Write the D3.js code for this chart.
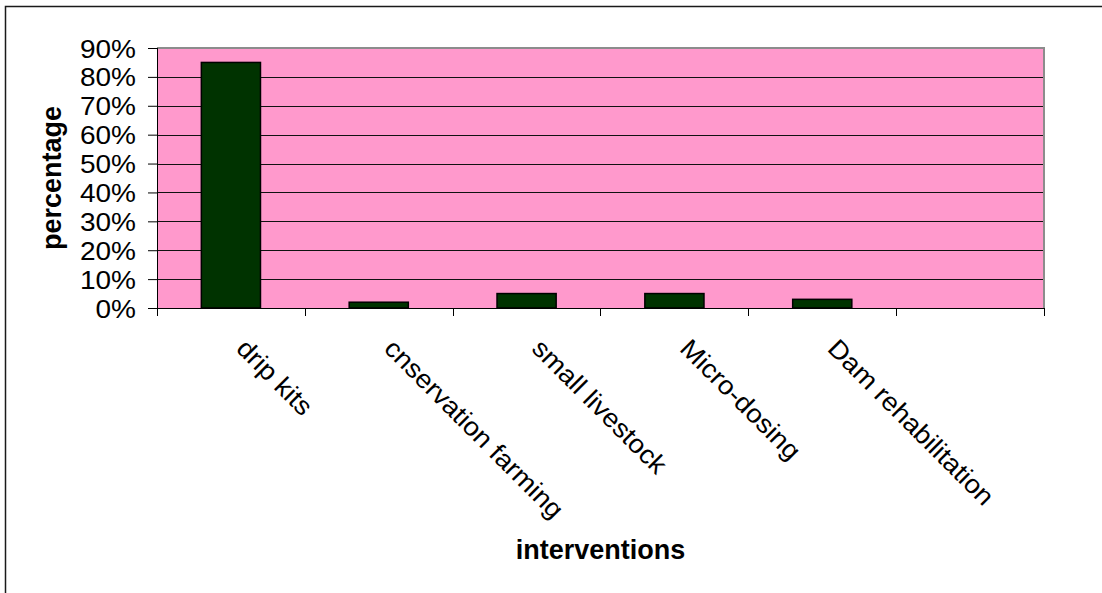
<!DOCTYPE html>
<html>
<head>
<meta charset="utf-8">
<script src="https://cdn.jsdelivr.net/npm/d3@7"></script>
<style>
  body { margin: 0; background: #fff; }
  text { font-family: "Liberation Sans", Arial, sans-serif; fill: #000; }
</style>
</head>
<body>
<div id="chart"></div>
<script>
// data
const categories = ["drip kits", "cnservation farming", "small livestock", "Micro-dosing", "Dam rehabilitation", ""]
const values = [0.85, 0.02, 0.05, 0.05, 0.03, null]
const yTicks = [0, 0.1, 0.2, 0.3, 0.4, 0.5, 0.6, 0.7, 0.8, 0.9]

const margin = { top: 48, right: 58, bottom: 285, left: 157 }
const width = 1102 - margin.left - margin.right
const height = 593 - margin.top - margin.bottom

const root = d3.select("#chart").append("svg")
  .attr("width", 1102)
  .attr("height", 593)

// outer chart frame (runs off right/bottom edge)
root.append("rect")
  .attr("x", 5.5).attr("y", 6.5)
  .attr("width", 1200).attr("height", 700)
  .attr("fill", "none")
  .attr("stroke", "#1a1a1a")
  .attr("stroke-width", 1.5)

const svg = root.append("g")
  .attr("transform", `translate(${margin.left},${margin.top})`)

const yScale = d3.scaleLinear()
  .domain([0, 0.9])
  .range([height, 0])

const xScale = d3.scaleBand()
  .domain(categories)
  .range([0, width])
  .paddingInner(0.6)
  .paddingOuter(0.3)

const step = xScale.step()

// stretch text a little wider, like the original's rendering
const widen = (sel, k) => sel.each(function () {
  const len = this.getComputedTextLength()
  if (len > 0) {
    d3.select(this)
      .attr("textLength", len * k)
      .attr("lengthAdjust", "spacingAndGlyphs")
  }
})

// plot background
svg.append("rect")
  .attr("width", width).attr("height", height)
  .attr("fill", "#ff99cc")

// gridlines
svg.append("g")
  .selectAll("line")
  .data(yTicks.filter(d => d > 0 && d < 0.9))
  .enter().append("line")
  .attr("x1", 0).attr("x2", width)
  .attr("y1", d => Math.round(yScale(d)) + 0.5)
  .attr("y2", d => Math.round(yScale(d)) + 0.5)
  .attr("stroke", "#111")

// gray top / right frame
svg.append("path")
  .attr("d", `M0,${yScale(0.9)}H${width}V${height}`)
  .attr("fill", "none")
  .attr("stroke", "#8c8c8c")
  .attr("stroke-width", 2)

// bars
svg.selectAll(".bar")
  .data(categories.map((c, i) => ({ c, v: values[i] })).filter(d => d.v != null))
  .enter().append("rect")
  .attr("class", "bar")
  .attr("x", d => xScale(d.c))
  .attr("width", xScale.bandwidth())
  .attr("y", d => yScale(d.v))
  .attr("height", d => height - yScale(d.v))
  .attr("fill", "#003300")
  .attr("stroke", "#000")
  .attr("stroke-width", 1.5)

// y axis
const yAxis = d3.axisLeft(yScale)
  .tickValues(yTicks)
  .tickFormat(d3.format(".0%"))
  .tickSize(9)
  .tickPadding(12)

svg.append("g")
  .call(yAxis)
  .call(g => g.select(".domain").attr("stroke", "#000").attr("d", `M0.5,0V${height}`))
  .call(g => g.selectAll("line").attr("stroke", "#000"))
  .call(g => g.selectAll("text")
    .attr("font-size", 25)
    .attr("dy", "0.36em")
    .call(widen, 1.12))

// x axis: ticks between categories
const xAxis = d3.axisBottom(xScale).tickSize(0).tickPadding(0)

const gx = svg.append("g")
  .attr("transform", `translate(0,${height})`)
  .call(xAxis)

gx.select(".domain").attr("stroke", "#000").attr("d", `M0,0.5H${width}`)

gx.selectAll(".tick text")
  .attr("y", 0).attr("dy", 0)
  .attr("font-size", 26)
  .style("text-anchor", "start")
  .attr("transform", "translate(4,42) rotate(45)")
  .call(widen, 1.06)

gx.append("g")
  .selectAll("line")
  .data(categories.map(c => xScale(c) - step * 0.3).concat([width]))
  .enter().append("line")
  .attr("x1", d => Math.round(d) + 0.5).attr("x2", d => Math.round(d) + 0.5)
  .attr("y1", 0).attr("y2", 8)
  .attr("stroke", "#000")

// axis titles
svg.append("text")
  .attr("x", width / 2)
  .attr("y", 511)
  .attr("text-anchor", "middle")
  .attr("font-size", 27)
  .attr("font-weight", "bold")
  .text("interventions")

svg.append("text")
  .attr("transform", `translate(${61 - margin.left},${height / 2}) rotate(-90)`)
  .attr("text-anchor", "middle")
  .attr("font-size", 27)
  .attr("font-weight", "bold")
  .text("percentage")
</script>
</body>
</html>
